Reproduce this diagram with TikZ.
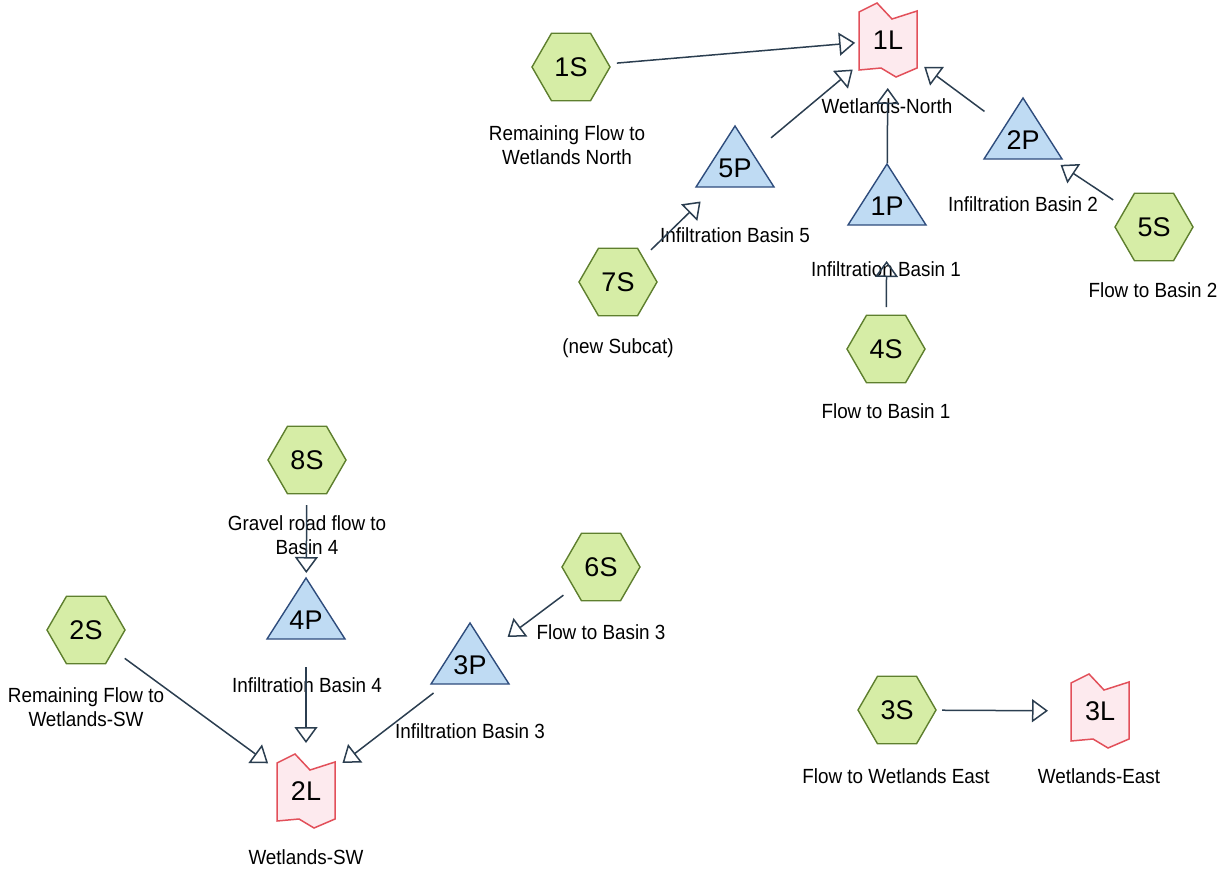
\documentclass[tikz,border=0pt]{standalone}
\usepackage{fontspec}
\setmainfont{Liberation Sans}
\newfontfamily\lblfont[FakeStretch=0.92]{Liberation Sans}
\usetikzlibrary{shapes.geometric,arrows.meta,calc}
\definecolor{hexfill}{HTML}{D6EDA6}
\definecolor{hexdraw}{HTML}{5E7F2E}
\definecolor{pondfill}{HTML}{BFDBF3}
\definecolor{ponddraw}{HTML}{2E4C7C}
\definecolor{linkfill}{HTML}{FDEAEE}
\definecolor{linkdraw}{HTML}{E2505A}
\definecolor{flowc}{HTML}{2B3E50}
\newcommand\pondnode[3]{%
  \filldraw[pondshape] (#2) +(0,-42) -- +(39,19) -- +(-39,19) -- cycle;
  \node[ntext] (#1) at (#2) {#3};}
\newcommand\linknode[3]{%
  \filldraw[linkshape] (#2) +(-29,-28) -- +(-11,-37) -- +(4,-21) -- +(29,-29)
    -- +(29,28) -- +(8,37) -- +(-7,28) -- +(-29,30) -- cycle;
  \node[ntext] (#1) at (#2) {#3};}
\begin{document}
\begin{tikzpicture}[x=1pt,y=-1pt,
  subcat/.style={regular polygon, regular polygon sides=6, minimum size=78pt,
    inner sep=0pt, fill=hexfill, draw=hexdraw, line width=1.4pt,
    font=\fontsize{27}{30}\selectfont},
  pondshape/.style={fill=pondfill, draw=ponddraw, line width=1.4pt},
  linkshape/.style={fill=linkfill, draw=linkdraw, line width=1.5pt},
  ntext/.style={font=\fontsize{27}{30}\selectfont, inner sep=0pt},
  lbl/.style={font=\lblfont\fontsize{20.5}{24}\selectfont, align=center, inner sep=0pt},
  flow/.style={draw=flowc, line width=1.5pt,
    -{Triangle[open, length=16pt, width=23pt]}}]
\useasboundingbox (0,0) rectangle (1225,876);

% subcatchments
\node[subcat] (1S) at (571,67) {1S};
\node[subcat] (7S) at (618,282) {7S};
\node[subcat] (4S) at (886,349) {4S};
\node[subcat] (5S) at (1154,227) {5S};
\node[subcat] (8S) at (307,460) {8S};
\node[subcat] (6S) at (601,567) {6S};
\node[subcat] (2S) at (86,630) {2S};
\node[subcat] (3S) at (897,710) {3S};

% ponds
\pondnode{5P}{735,168}{5P}
\pondnode{1P}{887,206}{1P}
\pondnode{2P}{1023,140}{2P}
\pondnode{4P}{306,620}{4P}
\pondnode{3P}{470,665}{3P}

% links
\linknode{1L}{888,40}{1L}
\linknode{2L}{306,791}{2L}
\linknode{3L}{1100,711}{3L}

% labels
\node[lbl] (t1S) at (567,145) {Remaining Flow to\\Wetlands North};
\node[lbl] (t1L) at (887,106) {Wetlands-North};
\node[lbl] (t2P) at (1023,204) {Infiltration Basin 2};
\node[lbl] (t5S) at (1153,290) {Flow to Basin 2};
\node[lbl] (t5P) at (735,235) {Infiltration Basin 5};
\node[lbl] (t1P) at (886,269) {Infiltration Basin 1};
\node[lbl] (t7S) at (618,348) {(new Subcat)};
\node[lbl] (t4S) at (886,411) {Flow to Basin 1};
\node[lbl] (t8S) at (307,535) {Gravel road flow to\\Basin 4};
\node[lbl] (t6S) at (601,632) {Flow to Basin 3};
\node[lbl] (t2S) at (86,707) {Remaining Flow to\\Wetlands-SW};
\node[lbl] (t4P) at (307,685) {Infiltration Basin 4};
\node[lbl] (t3P) at (470,731) {Infiltration Basin 3};
\node[lbl] (t2L) at (306,857) {Wetlands-SW};
\node[lbl] (t3S) at (896,776) {Flow to Wetlands East};
\node[lbl] (t3L) at (1099,776) {Wetlands-East};

% connectors
\draw[flow] ($(1S)!46pt!(1L)$) -- ($(1L)!33pt!(1S)$);
\draw[flow] ($(5P)!47pt!(1L)$) -- ($(1L)!46pt!(5P)$);
\draw[flow] ($(1P)!43pt!(1L)$) -- ($(1L)!48pt!(1P)$);
\draw[flow] ($(2P)!48pt!(1L)$) -- ($(1L)!45pt!(2P)$);
\draw[flow] ($(5S)!49pt!(2P)$) -- ($(2P)!45pt!(5S)$);
\draw[flow] ($(7S)!46pt!(5P)$) -- ($(5P)!48pt!(7S)$);
\draw[flow] ($(4S)!42pt!(1P)$) -- ($(1P)!55pt!(4S)$);
\draw[flow] ($(8S)!45pt!(4P)$) -- ($(4P)!47pt!(8S)$);
\draw[flow] ($(6S)!47pt!(3P)$) -- ($(3P)!47pt!(6S)$);
\draw[flow] ($(4P)!47pt!(2L)$) -- ($(2L)!48pt!(4P)$);
\draw[flow] ($(2S)!48pt!(2L)$) -- ($(2L)!47pt!(2S)$);
\draw[flow] ($(3P)!46pt!(2L)$) -- ($(2L)!46pt!(3P)$);
\draw[flow] ($(3S)!45pt!(3L)$) -- ($(3L)!52pt!(3S)$);
\end{tikzpicture}
\end{document}
